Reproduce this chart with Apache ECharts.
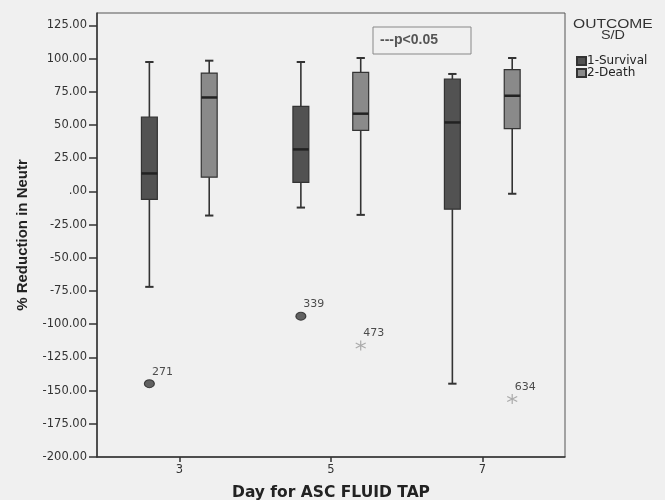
<!DOCTYPE html>
<html><head><meta charset="utf-8">
<script src="https://cdn.jsdelivr.net/npm/echarts@6/dist/echarts.min.js"></script>
<style>html,body{margin:0;padding:0;background:#f0f0f0}#c{width:665px;height:500px}</style>
</head><body><div id="c"></div>
<script>
const days = [3, 5, 7];
const groups = ['1-Survival', '2-Death'];
// [whiskerLow, Q1, median, Q3, whiskerHigh]
const survivalBoxes = [
  [-71.9, -6.1, 13.5, 56.0, 97.4],
  [-12.2, 6.7, 31.6, 64.0, 97.4],
  [-144.8, -13.4, 51.9, 84.6, 88.4]
];
const deathBoxes = [
  [-18.2, 10.7, 70.7, 89.1, 98.4],
  [-17.7, 45.9, 58.5, 89.6, 100.4],
  [-1.8, 47.2, 72.0, 91.6, 100.4]
];
const survivalOutDays = [3, 5];
const survivalOutValues = [-144.8, -94.0];
const survivalOutIds = ['271', '339'];
const deathOutDays = [5, 7];
const deathOutValues = [-116.1, -156.3];
const deathOutIds = ['473', '634'];
const yTicks = [-200, -175, -150, -125, -100, -75, -50, -25, 0, 25, 50, 75, 100, 125];

const OFF = 0.395, HALF_W = 0.105, CAP = 0.055;
const colors = ['#525252', '#8a8a8a'];

function boxRender(color, sign) {
  return function (params, api) {
    const d = api.value(0) + sign * OFF;
    const lo = api.value(1), q1 = api.value(2), med = api.value(3), q3 = api.value(4), hi = api.value(5);
    const pL = api.coord([d - HALF_W, q3]);
    const pR = api.coord([d + HALF_W, q1]);
    const c = (v) => api.coord([d, v]);
    const cl = (v) => api.coord([d - CAP, v]);
    const cr = (v) => api.coord([d + CAP, v]);
    const ls = { stroke: '#333', lineWidth: 1.6 };
    return {
      type: 'group',
      children: [
        { type: 'line', shape: { x1: c(hi)[0], y1: c(hi)[1], x2: c(q3)[0], y2: c(q3)[1] }, style: ls },
        { type: 'line', shape: { x1: c(q1)[0], y1: c(q1)[1], x2: c(lo)[0], y2: c(lo)[1] }, style: ls },
        { type: 'line', shape: { x1: cl(hi)[0], y1: cl(hi)[1], x2: cr(hi)[0], y2: cr(hi)[1] }, style: { stroke: '#333', lineWidth: 2 } },
        { type: 'line', shape: { x1: cl(lo)[0], y1: cl(lo)[1], x2: cr(lo)[0], y2: cr(lo)[1] }, style: { stroke: '#333', lineWidth: 2 } },
        { type: 'rect', shape: { x: pL[0], y: pL[1], width: pR[0] - pL[0], height: pR[1] - pL[1] }, style: { fill: color, stroke: '#333', lineWidth: 1.2 } },
        { type: 'line', shape: { x1: pL[0], y1: c(med)[1], x2: pR[0], y2: c(med)[1] }, style: { stroke: '#222', lineWidth: 2.5 } }
      ]
    };
  };
}

const survData = days.map((d, i) => [d].concat(survivalBoxes[i]));
const deathData = days.map((d, i) => [d].concat(deathBoxes[i]));
const survOut = survivalOutDays.map((d, i) => ({ value: [d - OFF, survivalOutValues[i]], id: survivalOutIds[i] }));
const deathOut = deathOutDays.map((d, i) => ({ value: [d + OFF, deathOutValues[i]], id: deathOutIds[i] }));

const font = 'Liberation Sans, Arial, sans-serif';
const wide = 'DejaVu Sans, sans-serif';
const chart = echarts.init(document.getElementById('c'), null, { renderer: 'canvas' });
chart.setOption({
  backgroundColor: '#f0f0f0',
  animation: false,
  grid: { left: 97, right: 100, top: 13, bottom: 43, outerBoundsMode: 'none', containLabel: false,
    show: true, borderColor: '#555', borderWidth: 1, backgroundColor: 'transparent' },
  xAxis: {
    type: 'value', min: 1.9135, max: 8.092,
    name: 'Day for ASC FLUID TAP', nameLocation: 'middle', nameGap: 28,
    nameTextStyle: { fontFamily: wide, fontSize: 15.5, fontWeight: 'bold', color: '#222' },
    axisLine: { show: true, onZero: false, lineStyle: { color: '#333', width: 1.5 } },
    axisTick: { show: true, length: 5, lineStyle: { color: '#333', width: 1.5 }, customValues: days },
    axisLabel: { customValues: days, fontFamily: wide, fontSize: 11.5, color: '#333', margin: 7 },
    splitLine: { show: false }
  },
  yAxis: {
    type: 'value', min: -200, max: 134.3, interval: 25,
    name: '% Reduction in Neutr', nameLocation: 'middle', nameGap: 66.5, nameRotate: 90,
    nameTextStyle: { fontFamily: font, fontSize: 15, fontWeight: 'bold', color: '#222' },
    axisLine: { show: true, onZero: false, lineStyle: { color: '#333', width: 1.5 } },
    axisTick: { show: true, length: 8, lineStyle: { color: '#333', width: 1.5 }, customValues: yTicks },
    axisLabel: { customValues: yTicks, fontFamily: wide, fontSize: 11.5, color: '#333', margin: 10,
      formatter: v => v === 0 ? '.00' : v.toFixed(2) },
    splitLine: { show: false }
  },
  legend: {
    orient: 'vertical', left: 576, top: 55, padding: 0, itemWidth: 9, itemHeight: 8, itemGap: 0,
    icon: 'rect', data: groups,
    textStyle: { fontFamily: wide, fontSize: 12, lineHeight: 12, color: '#222', padding: [0, 0, 0, -4] }
  },
  graphic: [
    { type: 'text', x: 573, y: 19, scaleX: 1.3, style: { text: 'OUTCOME', font: '12px ' + font, fill: '#333' } },
    { type: 'text', x: 601, y: 30, scaleX: 1.2, style: { text: 'S/D', font: '12px ' + font, fill: '#333' } },
    { type: 'rect', x: 373, y: 27, shape: { width: 98, height: 27 }, style: { fill: 'transparent', stroke: '#888', lineWidth: 1 } },
    { type: 'text', x: 380, y: 33, style: { text: '---p<0.05', font: 'bold 14px ' + font, fill: '#555' } }
  ],
  series: [
    { name: groups[0], type: 'custom', renderItem: boxRender(colors[0], -1), data: survData,
      itemStyle: { color: colors[0], borderColor: '#333', borderWidth: 1 }, encode: { x: 0, y: [1, 2, 3, 4, 5] }, z: 2 },
    { name: groups[1], type: 'custom', renderItem: boxRender(colors[1], 1), data: deathData,
      itemStyle: { color: colors[1], borderColor: '#333', borderWidth: 1 }, encode: { x: 0, y: [1, 2, 3, 4, 5] }, z: 2 },
    { name: 'out1', type: 'scatter', data: survOut, symbol: 'circle', symbolSize: [10, 8],
      itemStyle: { color: '#3d3d3d', borderColor: '#222', borderWidth: 1 },
      label: { show: true, position: 'top', offset: [13, -2], distance: 0, formatter: p => p.data.id, fontFamily: wide, fontSize: 11, color: '#222' }, z: 3 },
    { name: 'out2', type: 'scatter', data: deathOut,
      symbol: 'path://M0,-5L0,5M-4.33,-2.5L4.33,2.5M-4.33,2.5L4.33,-2.5', symbolSize: 10,
      itemStyle: { color: 'transparent', borderColor: '#999', borderWidth: 1.2 },
      label: { show: true, position: 'top', offset: [13, -1], distance: 0, formatter: p => p.data.id, fontFamily: wide, fontSize: 11, color: '#222' }, z: 3 }
  ]
});
</script></body></html>
